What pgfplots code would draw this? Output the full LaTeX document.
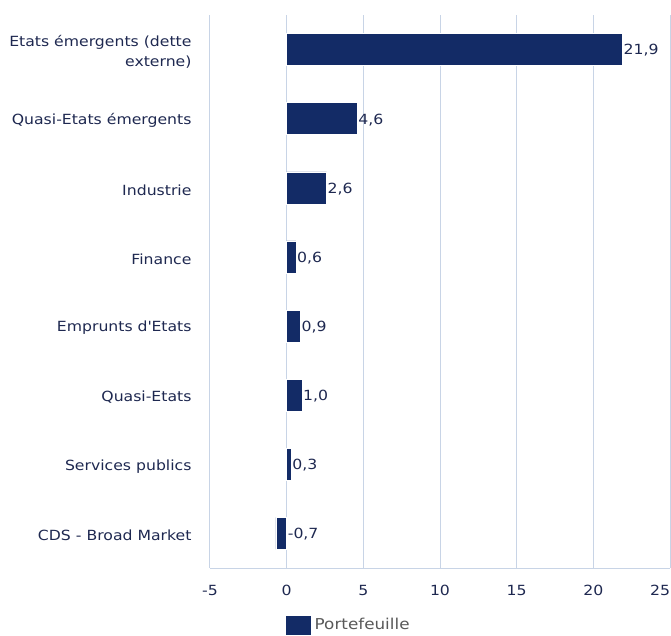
\documentclass[border=0pt]{standalone}
\usepackage{fontspec}
\setmainfont[FakeStretch=1.12]{DejaVu Sans}
\usepackage{pgfplots}
\usepackage{pgfplotstable}
\pgfplotsset{compat=1.18}

\definecolor{barblue}{RGB}{19,43,102}
\definecolor{txtblue}{RGB}{30,40,80}
\definecolor{gridblue}{RGB}{200,212,230}
\definecolor{leggray}{RGB}{89,89,89}

% y = category position (0 = top), v = value, lx = where the value label starts
\pgfplotstableread{
y v lx
0 21.9 21.9
1 4.6 4.6
2 2.6 2.6
3 0.6 0.6
4 0.9 0.9
5 1.0 1.0
6 0.3 0.3
7 -0.7 0
}\sectors

\begin{document}
\begin{tikzpicture}
\begin{axis}[
    scale only axis,
    width=460pt, height=553pt,
    at={(0,0)}, anchor=south west,
    xmin=-5, xmax=25,
    xtick={-5,0,...,25},
    xticklabels={-5,0,5,10,15,20,\makebox[0pt][r]{25}},
    ymin=-0.5, ymax=7.5,
    y dir=reverse,
    axis lines*=left,
    axis line style={gridblue, line width=1pt},
    xmajorgrids,
    major grid style={gridblue, line width=1pt},
    x tick style={draw=none},
    ytick={0,...,7},
    yticklabels={{Etats émergents (dette\\externe)},Quasi-Etats émergents,Industrie,Finance,Emprunts d\textquotesingle Etats,Quasi-Etats,Services publics,CDS - Broad Market},
    y tick style={draw=none},
    extra y ticks={-0.5,0.5,...,7.5},
    extra y tick labels={},
    extra y tick style={tick style={draw=gridblue, line width=1pt}, major tick length=13pt, tick align=outside},
    yticklabel style={font=\fontsize{14}{20}\selectfont, text=txtblue, align=right, xshift=-15pt, yshift=-2pt},
    xticklabel style={font=\fontsize{14}{16}\selectfont, text=txtblue, yshift=-14pt},
    /pgf/number format/assume math mode=true,
    clip=false,
    legend style={draw=none, fill=none, at={(axis description cs:0.165,-0.103)}, anchor=west,
        font=\fontsize{15}{17}\selectfont, text=leggray, inner sep=0pt,
        /tikz/every odd column/.style={column sep=2pt}},
    legend image code/.code={\fill[barblue] (0pt,-9pt) rectangle (24pt,9pt);},
]
\addplot[xbar, bar width=32pt, fill=barblue, draw=white, line width=0.6pt]
    table[x=v, y=y] {\sectors};
\addlegendentry{Portefeuille}
\addplot[draw=none, mark=none, forget plot,
    point meta=\thisrow{v},
    nodes near coords,
    nodes near coords style={anchor=west, inner sep=1pt, yshift=-1pt, text=txtblue,
        font=\fontsize{14}{16}\selectfont,
        /pgf/number format/.cd, fixed, fixed zerofill, precision=1, use comma, assume math mode=true}]
    table[x=lx, y=y] {\sectors};
\end{axis}
\pgfresetboundingbox
\useasboundingbox (-210pt,-67pt) rectangle (461pt,568pt);
\end{tikzpicture}
\end{document}
